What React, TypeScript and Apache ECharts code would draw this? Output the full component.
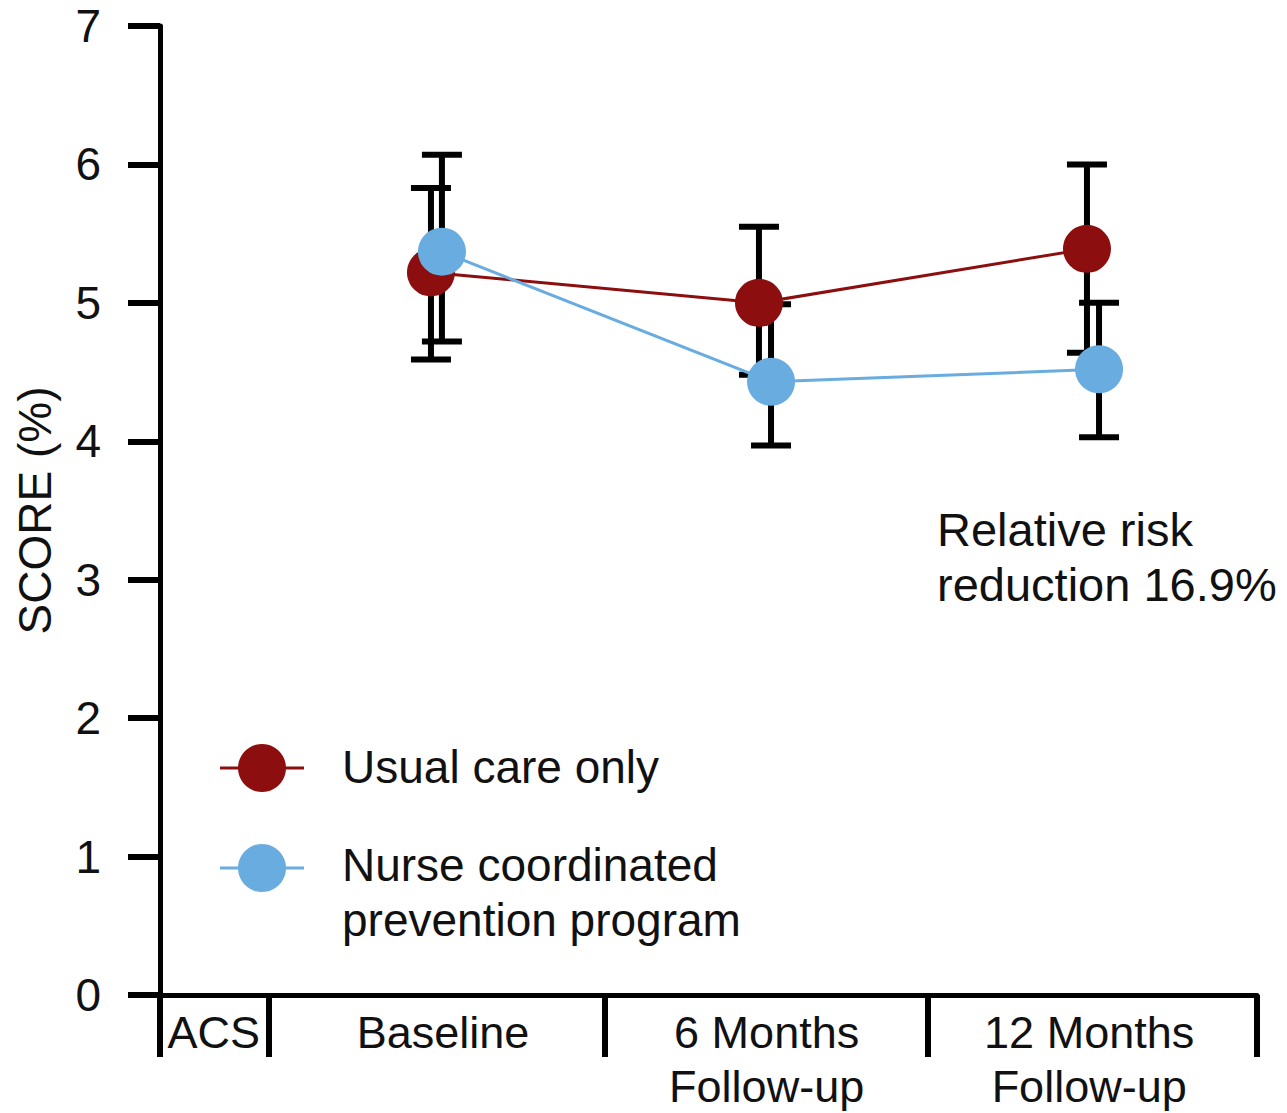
import React, { useEffect, useRef } from "react";
import * as echarts from "echarts";

// ---- data ----
const groupLabels = ["ACS", "Baseline", "6 Months\nFollow-up", "12 Months\nFollow-up"];
const groupBounds = [0, 0.99, 4.05, 7.0, 10];
const groupLabelPos = [0.49, 2.58, 5.53, 8.47];

const usualX = [2.47, 5.46, 8.45];
const usualMean = [5.22, 5.0, 5.39];
const usualLow = [4.59, 4.48, 4.64];
const usualHigh = [5.83, 5.55, 6.0];

const nurseX = [2.57, 5.57, 8.56];
const nurseMean = [5.37, 4.43, 4.52];
const nurseLow = [4.72, 3.97, 4.03];
const nurseHigh = [6.07, 4.99, 5.0];

const yTicks = [0, 1, 2, 3, 4, 5, 6, 7];

const RED = "#8c0e0e";
const BLUE = "#69ace0";
const FONT = "'Liberation Sans', Arial, Helvetica, sans-serif";

function errorSeries(xs: number[], lows: number[], highs: number[]) {
  return {
    type: "custom",
    silent: true,
    data: xs.map((x, i) => [x, lows[i], highs[i]]),
    encode: { x: 0, y: [1, 2] },
    renderItem: (params: any, api: any) => {
      const x = api.value(0);
      const lo = api.coord([x, api.value(1)]);
      const hi = api.coord([x, api.value(2)]);
      const hw = 20;
      const style = { stroke: "#000", lineWidth: 6, fill: null };
      return {
        type: "group",
        children: [
          { type: "line", shape: { x1: lo[0], y1: lo[1], x2: hi[0], y2: hi[1] }, style },
          { type: "line", shape: { x1: hi[0] - hw, y1: hi[1], x2: hi[0] + hw, y2: hi[1] }, style },
          { type: "line", shape: { x1: lo[0] - hw, y1: lo[1], x2: lo[0] + hw, y2: lo[1] }, style },
        ],
      };
    },
  };
}

export default function App() {
  const ref = useRef<HTMLDivElement>(null);
  useEffect(() => {
    document.body.style.margin = "0";
    if (!ref.current) return;
    const chart = echarts.init(ref.current, null, { renderer: "svg" });
    chart.setOption({
      animation: false,
      backgroundColor: "#fff",
      textStyle: { fontFamily: FONT },
      grid: { left: 160, right: 30, top: 26, bottom: 116, containLabel: false },
      xAxis: {
        type: "value",
        min: groupBounds[0],
        max: groupBounds[groupBounds.length - 1],
        splitLine: { show: false },
        axisLine: { show: true, onZero: false, lineStyle: { color: "#000", width: 5 } },
        axisTick: {
          show: true,
          customValues: groupBounds,
          length: 62,
          lineStyle: { color: "#000", width: 6 },
        },
        axisLabel: {
          show: true,
          customValues: groupLabelPos,
          margin: 10,
          fontSize: 45,
          lineHeight: 54,
          color: "#111",
          fontFamily: FONT,
          align: "center",
          formatter: (v: number) => {
            const i = groupLabelPos.findIndex((p) => Math.abs(p - v) < 1e-6);
            return i >= 0 ? groupLabels[i] : "";
          },
        },
      },
      yAxis: {
        type: "value",
        min: yTicks[0],
        max: yTicks[yTicks.length - 1],
        interval: 1,
        splitLine: { show: false },
        axisLine: { show: true, lineStyle: { color: "#000", width: 5 } },
        axisTick: { show: true, length: 32, lineStyle: { color: "#000", width: 6 } },
        axisLabel: { fontSize: 46, lineHeight: 34, color: "#111", margin: 59, fontFamily: FONT },
        name: "SCORE (%)",
        nameLocation: "middle",
        nameRotate: 90,
        nameGap: 102,
        nameTextStyle: { fontSize: 46, color: "#111", fontFamily: FONT },
      },
      series: [
        errorSeries(usualX, usualLow, usualHigh),
        {
          type: "line",
          name: "Usual care only",
          data: usualX.map((x, i) => [x, usualMean[i]]),
          symbol: "circle",
          symbolSize: 48,
          lineStyle: { color: RED, width: 3 },
          itemStyle: { color: RED },
        },
        errorSeries(nurseX, nurseLow, nurseHigh),
        {
          type: "line",
          name: "Nurse coordinated prevention program",
          data: nurseX.map((x, i) => [x, nurseMean[i]]),
          symbol: "circle",
          symbolSize: 48,
          lineStyle: { color: BLUE, width: 3 },
          itemStyle: { color: BLUE },
        },
      ],
      graphic: [
        { type: "line", shape: { x1: 220, y1: 768, x2: 304, y2: 768 }, style: { stroke: RED, lineWidth: 3 } },
        { type: "circle", shape: { cx: 262, cy: 768, r: 24 }, style: { fill: RED } },
        {
          type: "text", x: 342, y: 767,
          style: { text: "Usual care only", fontSize: 46, fontFamily: FONT, fill: "#111", verticalAlign: "middle" },
        },
        { type: "line", shape: { x1: 220, y1: 868, x2: 304, y2: 868 }, style: { stroke: BLUE, lineWidth: 3 } },
        { type: "circle", shape: { cx: 262, cy: 868, r: 24 }, style: { fill: BLUE } },
        {
          type: "text", x: 342, y: 837,
          style: {
            text: "Nurse coordinated\nprevention program", fontSize: 46, lineHeight: 55,
            fontFamily: FONT, fill: "#111", verticalAlign: "top",
          },
        },
        {
          type: "text", x: 937, y: 502,
          style: {
            text: "Relative risk\nreduction 16.9%", fontSize: 47, lineHeight: 55,
            fontFamily: FONT, fill: "#111", verticalAlign: "top",
          },
        },
      ],
    });
    return () => chart.dispose();
  }, []);
  return <div ref={ref} style={{ width: 1287, height: 1113 }} />;
}
